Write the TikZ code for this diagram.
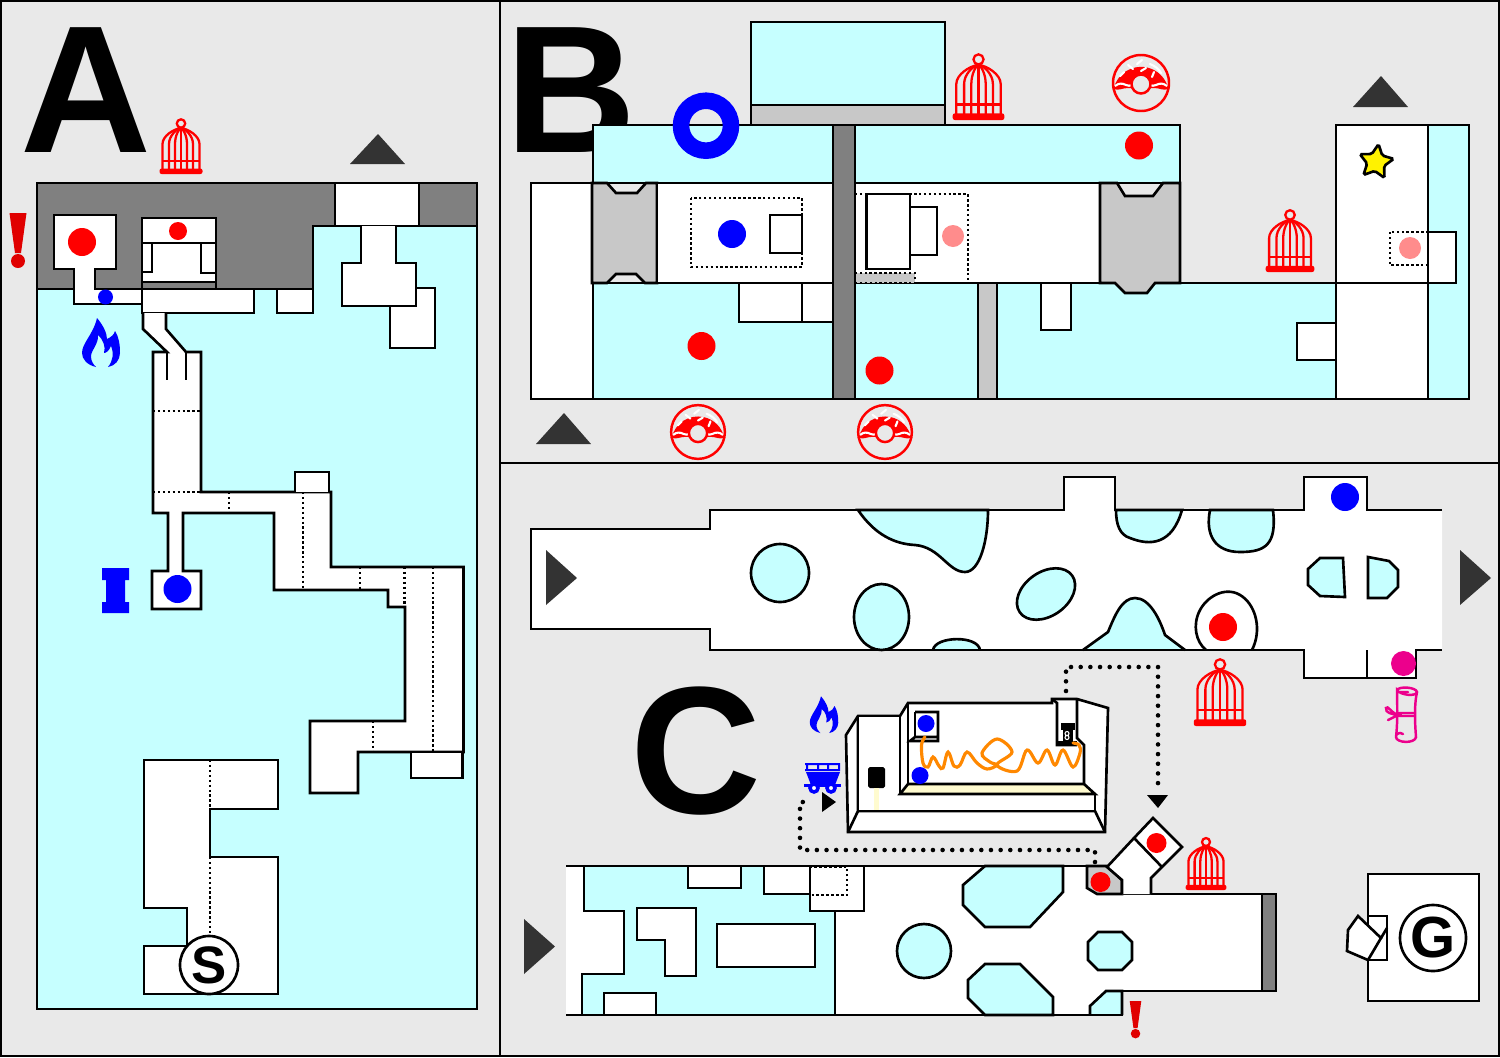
\documentclass[tikz,border=0pt]{standalone}
\usepackage{fontspec}
\setmainfont{Liberation Sans}
\usetikzlibrary{shapes.geometric}
\definecolor{panelgrey}{HTML}{E9E9E9}
\definecolor{poolcyan}{HTML}{C6FFFF}
\definecolor{rockgrey}{HTML}{808080}
\definecolor{sillgrey}{HTML}{C8C8C8}
\definecolor{dimred}{HTML}{FF8C8C}
\definecolor{alertred}{HTML}{E00000}
\definecolor{arrowdark}{HTML}{333333}
\definecolor{creamlit}{HTML}{FFFBCF}
\definecolor{fuseorange}{HTML}{FF8800}
\tikzset{
	wall/.style={draw=black,line width=0.75pt,fill=white},
	pool/.style={draw=black,line width=0.75pt,fill=poolcyan},
	sill/.style={draw=black,line width=0.75pt,fill=sillgrey},
	rock/.style={draw=black,line width=0.75pt,fill=rockgrey},
	seam/.style={draw=black,line width=0.75pt,dash pattern=on 0.7pt off 0.7pt},
	trail/.style={draw=black,line width=1.3pt,line cap=round,dash pattern=on 0pt off 2.75pt},
	bigletter/.style={anchor=base west,inner sep=0pt,font=\fontsize{51.6pt}{52pt}\bfseries},
	roundmark/.style={circle,draw=black,line width=0.75pt,fill=white,inner sep=0pt,font=\bfseries}
}
\def\birdcage(#1)(#2){
	\begin{scope}[shift={(#1)},scale=#2,draw=red,line width=0.65pt]
		\fill[red,rounded corners=0.6pt] (-21.5,-5.5) rectangle (21.5,0);
		\foreach \barx in {-18.5,-12,-6,0,6,12,18.5}
			\draw (\barx,-5) -- (\barx,-30) .. controls (\barx,-38) and (\barx*0.4,-45) .. (0,-46);
		\draw (-18.5,-13) -- (18.5,-13);
		\draw (0,-50.5) circle (4.2);
	\end{scope}
}
\def\donut(#1)(#2){
	\begin{scope}[shift={(#1)},scale=#2]
		\fill[red] (-27.4,6) arc (192:348:28) .. controls (22,8) and (19,5) .. (13,5) -- (-13,5) .. controls (-19,5) and (-22,8) .. (-27.4,6) -- cycle;
		\draw[red,line width=0.7pt] (0,0) circle (28);
		\draw[white,line width=0.6pt] (-26,3) .. controls (-22,0) and (-19,0) .. (-15,2) .. controls (-13,3) and (-11,3) .. (-9,2);
		\draw[white,line width=0.6pt] (26,3) .. controls (22,0) and (19,0) .. (15,2) .. controls (13,3) and (11,3) .. (9,2);
		\draw[white,line width=0.6pt,line cap=round] (-13,-18) -- (-8,-14) (-4,-19) -- (1,-23) (0,-12) -- (5,-15) (-21,-7) -- (-17,-11) (11,-6) -- (13,-11);
		\draw[white,line width=0.6pt,line cap=round] (9,-19) .. controls (14,-17) and (18,-14) .. (20,-10);
		\draw[red,line width=0.7pt,fill=panelgrey] (0,1) circle (9.5);
	\end{scope}
}
\def\flame(#1)(#2){
	\begin{scope}[shift={(#1)},scale=#2]
		\fill[blue] (-5,24) .. controls (-14,22) and (-19,16) .. (-19,10) .. controls (-19,0) and (-8,-8) .. (-4,-25) .. controls (2,-18) and (6,-10) .. (6,-4) .. controls (10,-6) and (13,-8) .. (14,-12) .. controls (18,-6) and (19,2) .. (19,10) .. controls (19,17) and (14,23) .. (7,24) .. controls (12,18) and (13,10) .. (10,3) .. controls (8,8) and (5,10) .. (3,10) .. controls (5,4) and (2,-4) .. (-3,-8) .. controls (-2,0) and (-10,8) .. (-10,13) .. controls (-10,18) and (-8,21) .. (-5,24) -- cycle;
	\end{scope}
}
\def\alertmark(#1)(#2){
	\begin{scope}[shift={(#1)},scale=#2]
		\fill[alertred] (-8.5,0) -- (8.5,0) -- (3,40) -- (-3,40) -- cycle;
		\fill[alertred] (0,48) circle (7);
	\end{scope}
}

\begin{document}
\begin{tikzpicture}[x=0.01cm,y=-0.01cm]
	\useasboundingbox (0,0) rectangle (1500,1057);
	\fill[panelgrey] (0,0) rectangle (1500,1057);
	\draw[line width=0.75pt] (1,1) rectangle (1499,1056);
	\draw[line width=0.75pt] (500,0) -- (500,1057);
	\draw[line width=0.75pt] (500,463) -- (1500,463);

	% area A
	\node[bigletter] (letterA) at (20,152) {A};
	\draw[pool] (37,183) rectangle (477,1009);
	\draw[rock] (37,183) -- (477,183) -- (477,226) -- (313,226) -- (313,289) -- (37,289) -- cycle;
	\draw[wall] (335,183) rectangle (419,226);
	\draw[wall] (390,288) -- (435,288) -- (435,348) -- (390,348) -- cycle;
	\draw[wall] (361,226) -- (361,263) -- (342,263) -- (342,306) -- (416,306) -- (416,263) -- (396,263) -- (396,226);
	\draw[wall] (54,215) -- (116,215) -- (116,269) -- (95,269) -- (95,289) -- (142,289) -- (142,304) -- (74,304) -- (74,269) -- (54,269) -- cycle;
	\draw[wall] (142,218) rectangle (216,289);
	\draw[line width=0.75pt] (142,243) -- (216,243);
	\draw[line width=0.75pt] (152,243) -- (152,272) -- (142,272);
	\draw[line width=0.75pt] (201,243) -- (201,273) -- (216,273);
	\draw[rock] (142,282) rectangle (216,289);
	\draw[wall] (142,289) rectangle (254,313);
	\draw[wall] (277,289) rectangle (313,313);
	\draw[wall] (143,313) -- (143,329) -- (167,352) -- (153,352) -- (153,513) -- (168,513) -- (168,571) -- (152,571) -- (152,609) -- (201,609) -- (201,571) -- (183,571) -- (183,513) -- (274,513) -- (274,590) -- (388,590) -- (388,607) -- (405,607) -- (405,721) -- (310,721) -- (310,793) -- (358,793) -- (358,752) -- (463.5,752) -- (463.5,567) -- (331,567) -- (331,492) -- (201,492) -- (201,352) -- (186,352) -- (166,329) -- (166,313);
	\draw[line width=0.75pt] (167,352) -- (167,380);
	\draw[line width=0.75pt] (186,352) -- (186,380);
	\draw[wall] (295,492) -- (295,472) -- (329,472) -- (329,492);
	\draw[wall] (411,752) rectangle (462.5,778);
	\draw[seam] (153,411) -- (201,411);
	\draw[seam] (153,492) -- (201,492);
	\draw[seam] (229,492) -- (229,513);
	\draw[seam] (303,492) -- (303,590);
	\draw[seam] (360,567) -- (360,590);
	\draw[seam] (404.5,567) -- (404.5,607);
	\draw[seam] (433,567) -- (433,752);
	\draw[seam] (373,721) -- (373,752);
	\draw[wall] (144,760) -- (278,760) -- (278,809) -- (210,809) -- (210,857) -- (278,857) -- (278,994) -- (144,994) -- (144,946) -- (187,946) -- (187,908) -- (144,908) -- cycle;
	\draw[seam] (210,760) -- (210,809);
	\draw[seam] (210,857) -- (210,992);
	\node[roundmark,minimum size=0.58cm,font=\fontsize{15pt}{15pt}\bfseries] (startS) at (209,965) {S};
	\fill[red] (82,242) circle (14);
	\fill[red] (178,231) circle (9);
	\fill[blue] (105.5,297) circle (7.5);
	\fill[blue] (177.5,589) circle (14);
	\fill[arrowdark] (378,134) -- (405,164) -- (350,164) -- cycle;
	\alertmark(18,213)(1)
	\birdcage(181,174)(1)
	\flame(101,343)(1)
	\fill[blue] (102,568) -- (129,568) -- (129,580) -- (125,580) -- (125,602) -- (129,602) -- (129,613) -- (102,613) -- (102,602) -- (106,602) -- (106,580) -- (102,580) -- cycle;

	% area B
	\node[bigletter] (letterB) at (505,152) {B};
	\draw[pool] (751,22) rectangle (945,105);
	\draw[sill] (751,105) rectangle (945,125);
	\draw[pool] (593,125) rectangle (1180,183);
	\draw[wall] (531,183) rectangle (593,399);
	\draw[pool] (593,283) rectangle (1336,399);
	\draw[sill] (592,183) -- (607,183) -- (616,193) -- (637,193) -- (646,183) -- (657,183) -- (657,283) -- (645,283) -- (636,274) -- (616,274) -- (607,283) -- (592,283) -- cycle;
	\draw[wall] (657,183) rectangle (833,283);
	\draw[wall] (855,183) rectangle (1100,283);
	\draw[seam] (691,198) rectangle (802,267);
	\draw[wall] (770,215) rectangle (802,253);
	\draw[wall] (739,283) rectangle (802,322);
	\draw[wall] (802,283) rectangle (833,322);
	\draw[seam,fill=sillgrey] (855,273) rectangle (915,283);
	\draw[seam] (855,194) -- (968,194) -- (968,283);
	\draw[wall] (866.5,194) rectangle (910,269);
	\draw[wall] (910,207) rectangle (937,255);
	\draw[sill] (1100,183) -- (1117,183) -- (1125,196) -- (1153,196) -- (1163,183) -- (1180,183) -- (1180,283) -- (1155,283) -- (1147,293) -- (1125,293) -- (1115,283) -- (1100,283) -- cycle;
	\draw[sill] (978,283) rectangle (997,399);
	\draw[wall] (1041,283) rectangle (1071,330);
	\draw[wall] (1297,323) rectangle (1336,360);
	\draw[rock] (833,125) rectangle (855,399);
	\draw[pool] (1428,125) rectangle (1469,399);
	\draw[wall] (1336,125) rectangle (1428,283);
	\draw[wall] (1336,283) rectangle (1428,399);
	\draw[wall] (1428,232) rectangle (1456,283);
	\draw[seam] (1390,232) rectangle (1428,265);
	\draw[blue,line width=4.7pt] (706,125.7) circle (25);
	\fill[blue] (732,234) circle (14);
	\fill[red] (701.5,346) circle (14);
	\fill[red] (879.5,370.5) circle (14);
	\fill[red] (1139,145.5) circle (14);
	\fill[dimred] (953,236) circle (11);
	\fill[dimred] (1410,248) circle (11);
	\node[star,star points=5,star point ratio=2,draw=black,line width=0.75pt,fill=yellow,inner sep=0pt,minimum size=0.36cm,rotate=-8,rounded corners=0.5pt] (goldstar) at (1376,162) {};
	\fill[arrowdark] (1381,76) -- (1408,107) -- (1353,107) -- cycle;
	\fill[arrowdark] (564,413) -- (591,444) -- (536,444) -- cycle;
	\birdcage(978.5,120)(1.2)
	\birdcage(1290,272)(1.13)
	\donut(1141,83)(1)
	\donut(698,432)(0.96)
	\donut(885,432)(0.96)

	% area C, upper cave
	\fill[white] (531,529) -- (710,529) -- (710,510) -- (1064,510) -- (1064,477) -- (1115,477) -- (1115,510) -- (1304,510) -- (1304,477) -- (1367,477) -- (1367,510) -- (1442,510) -- (1442,650) -- (1416,650) -- (1416,678) -- (1304,678) -- (1304,650) -- (710,650) -- (710,629) -- (531,629) -- cycle;
	\draw[pool] (858,510) .. controls (875,535) and (895,544) .. (915,545) .. controls (940,547) and (948,572) .. (965,572) .. controls (980,572) and (988,540) .. (988,510) -- cycle;
	\draw[pool] (1116,510) .. controls (1116,525) and (1120,535) .. (1130,538) .. controls (1150,546) and (1172,545) .. (1182,510) -- cycle;
	\draw[pool] (1210,510) .. controls (1205,535) and (1215,552) .. (1240,552) .. controls (1265,552) and (1277,545) .. (1273,510) -- cycle;
	\draw[pool] (780,573) circle (29);
	\draw[pool] (881.5,617) ellipse [x radius=27.5,y radius=33];
	\draw[pool] (1046,594) ellipse [x radius=32,y radius=22,rotate=35];
	\draw[pool] (933,650) .. controls (935,636) and (978,635) .. (980,650);
	\draw[pool] (1083,650) -- (1108,632) .. controls (1115,615) and (1122,598) .. (1135,598) .. controls (1150,598) and (1160,620) .. (1165,635) -- (1185,650);
	\draw[wall] (1206,650) .. controls (1196,642) and (1192,625) .. (1200,610) .. controls (1208,595) and (1228,585) .. (1243,597) .. controls (1256,607) and (1262,630) .. (1252,650);
	\draw[pool] (1320,558) -- (1343,558) -- (1345,597) -- (1320,596) -- (1308,585) -- (1308,569) -- cycle;
	\draw[pool] (1368,557) -- (1389,561) -- (1398,570) -- (1398,587) -- (1387,598) -- (1368,598) -- cycle;
	\draw[line width=0.75pt] (1442,510) -- (1367,510) -- (1367,477) -- (1304,477) -- (1304,510) -- (1115,510) -- (1115,477) -- (1064,477) -- (1064,510) -- (710,510) -- (710,529) -- (531,529) -- (531,629) -- (710,629) -- (710,650) -- (1304,650) -- (1304,678) -- (1416,678) -- (1416,650) -- (1442,650);
	\draw[line width=0.75pt] (1367,650) -- (1367,678);
	\fill[red] (1223,627) circle (14);
	\fill[blue] (1345,497) circle (14);
	\fill[magenta] (1403.5,663.5) circle (12.5);
	\fill[arrowdark] (546,550) -- (577,578) -- (546,605) -- cycle;
	\fill[arrowdark] (1460,550) -- (1491,578) -- (1460,605) -- cycle;
	\birdcage(1220,726)(1.22)
	\draw[magenta,line width=0.7pt,line cap=round] (1397,690) .. controls (1399,686) and (1416,687) .. (1417,692) .. controls (1416,697) and (1400,695) .. (1397,690) .. controls (1397,700) and (1398,720) .. (1396,737) .. controls (1396,743) and (1415,744) .. (1416,737) .. controls (1415,725) and (1414,705) .. (1417,692);
	\draw[magenta,line width=0.7pt,line cap=round] (1397,713) -- (1414,713) (1397,716) -- (1414,716) (1398,715) .. controls (1390,712) and (1388,705) .. (1386,708) .. controls (1385,713) and (1392,714) .. (1398,715) -- (1388,720) (1396,735) .. controls (1399,732) and (1402,733) .. (1403,734) (1400,692) -- (1408,692);

	% area C, side room
	\draw[wall] (846,735) -- (858,716) -- (900,716) -- (908,703) -- (1052,703) -- (1052,699) -- (1077,699) -- (1108,708) -- (1105,832) -- (848,832) -- cycle;
	\draw[line width=0.75pt] (858,716) -- (858,811) -- (848,832);
	\draw[line width=0.75pt] (858,811) -- (1095,811) -- (1105,832);
	\draw[wall] (900,716) -- (900,794) -- (1095,794) -- (1095,811) -- (858,811) -- (858,716) -- cycle;
	\fill[creamlit] (900,794) -- (908,784) -- (1084,784) -- (1095,794) -- cycle;
	\draw[line width=0.75pt] (900,794) -- (1095,794) -- (1084,784) -- (908,784) -- cycle;
	\draw[line width=0.75pt] (908,703) -- (908,784);
	\draw[line width=0.75pt] (1084,784) -- (1084,745) -- (1077,738) -- (1077,699);
	\draw[line width=0.75pt] (1052,699) -- (1057,703) -- (1057,745) -- (1077,745);
	\draw[line width=0.75pt] (915,712) -- (938,712) -- (938,741) -- (910,741) -- (915,737) -- (938,737);
	\draw[line width=0.75pt] (915,712) -- (915,737);
	\fill[black] (1061,723) rectangle (1075,730);
	\fill[black] (1063,730) rectangle (1073,742);
	\fill[black] (1057,741) rectangle (1077,745);
	\draw[white,line width=0.3pt] (1067,733.5) circle (2) (1067,737.5) circle (2);
	\fill[black,rounded corners=0.5pt] (868,767) rectangle (885,788);
	\fill[creamlit] (874,788) rectangle (879,810);
	\fill[blue] (926,723.5) circle (8.5);
	\fill[blue] (920,775.5) circle (8.5);
	\draw[fuseorange,line width=0.9pt,line cap=round] plot[smooth,tension=0.6] coordinates {(925,737) (921.5,745) (923,763) (928,767) (933,757) (939,766) (943,768) (948,752) (954,766) (960,765) (967,752) (977,763) (987,769) (997,765) (990,762) (982,753) (997,739) (1012,752) (997,765) (1017,771) (1027,750) (1038,763) (1047,750) (1055,765) (1063,750) (1073,767) (1080,753) (1079,745) (1073,743)};
	\flame(824,715)(0.75)
	\fill[blue] (805,763) rectangle (840,765) (805,769) rectangle (840,771) (806,763) rectangle (808,771) (817,763) rectangle (819,771) (827,763) rectangle (829,771) (838,763) rectangle (840,771);
	\fill[blue] (806,772) -- (840,772) -- (835,785) -- (811,785) -- cycle;
	\fill[blue] (804,784) rectangle (841,786.5);
	\draw[blue,line width=1pt,fill=white] (814,788) circle (4) (831,788) circle (4);

	% area C, lower cave
	\fill[white] (566,866) -- (1262,866) -- (1262,1015) -- (566,1015) -- cycle;
	\fill[panelgrey] (1122,991) rectangle (1280,1020);
	\fill[panelgrey] (1122,866) rectangle (1280,894);
	\fill[poolcyan] (584,866) -- (835,866) -- (835,1015) -- (582,1015) -- (582,974) -- (624,974) -- (624,911) -- (584,911) -- cycle;
	\draw[line width=0.75pt] (584,866) -- (584,911) -- (624,911) -- (624,974) -- (582,974) -- (582,1015);
	\draw[line width=0.75pt] (835,911) -- (835,1015);
	\draw[wall] (688,866) rectangle (741,888);
	\draw[wall] (764,866) rectangle (810,894);
	\draw[wall] (810,866) rectangle (864,911);
	\draw[seam] (810,867) rectangle (847,895);
	\draw[wall] (637,908) -- (696,908) -- (696,976) -- (665,976) -- (665,940) -- (637,940) -- cycle;
	\draw[wall] (717,924) rectangle (815,967);
	\draw[wall] (604,993) rectangle (656,1015);
	\draw[pool] (985,866) -- (1063,866) -- (1063,892) -- (1030,927) -- (985,927) -- (963,905) -- (963,885) -- cycle;
	\draw[pool] (924,951) circle (27);
	\draw[pool] (985,964) -- (1020,964) -- (1053,997) -- (1053,1015) -- (985,1015) -- (968,998) -- (968,980) -- cycle;
	\draw[pool] (1098,932) -- (1122,932) -- (1132,942) -- (1132,960) -- (1122,970) -- (1098,970) -- (1088,960) -- (1088,942) -- cycle;
	\draw[pool] (1090,1015) -- (1090,1006) -- (1106,991) -- (1122,991) -- (1122,1015);
	\draw[line width=0.75pt] (566,866) -- (1087,866);
	\draw[line width=0.75pt] (566,1015) -- (1122,1015) -- (1122,991) -- (1262,991);
	\draw[line width=0.75pt] (1122,894) -- (1262,894);
	\draw[rock] (1262,894) rectangle (1276,991);
	\draw[sill] (1087,866) -- (1107,866) -- (1122,880) -- (1122,894) -- (1097,894) -- (1087,888) -- cycle;
	\draw[wall] (1122,894) -- (1122,880) -- (1107,867) -- (1134,838) -- (1153,818) -- (1182,847) -- (1162,867) -- (1151,878) -- (1151,894);
	\draw[line width=0.75pt] (1134,838) -- (1162,867);
	\fill[red] (1100.5,882) circle (10);
	\fill[red] (1156.5,843) circle (10);
	\alertmark(1135.5,1001)(0.68)
	\birdcage(1206,890)(0.95)
	\fill[arrowdark] (524,919) -- (555,946.5) -- (524,974) -- cycle;
	\draw[trail] (1066,691) -- (1066,667) -- (1158,667) -- (1158,790);
	\fill[black] (1147,795) -- (1168,795) -- (1158,808) -- cycle;
	\draw[trail] (1095,862) -- (1095,850) -- (800,850) -- (800,802) -- (812,802);
	\fill[black] (822,792) -- (836,802) -- (822,812) -- cycle;
	\node[bigletter] (letterC) at (630,813) {C};

	% goal room
	\draw[wall] (1368,874) rectangle (1479,1001);
	\draw[wall] (1368,916) rectangle (1387,960);
	\draw[wall] (1358,916) -- (1348,930) -- (1347,951) -- (1368,960) -- (1381,938) -- cycle;
	\draw[line width=0.75pt] (1381,938) -- (1387,928);
	\node[roundmark,minimum size=0.66cm,font=\fontsize{16.5pt}{17pt}\bfseries] (goalG) at (1433,938) {G};
\end{tikzpicture}
\end{document}
